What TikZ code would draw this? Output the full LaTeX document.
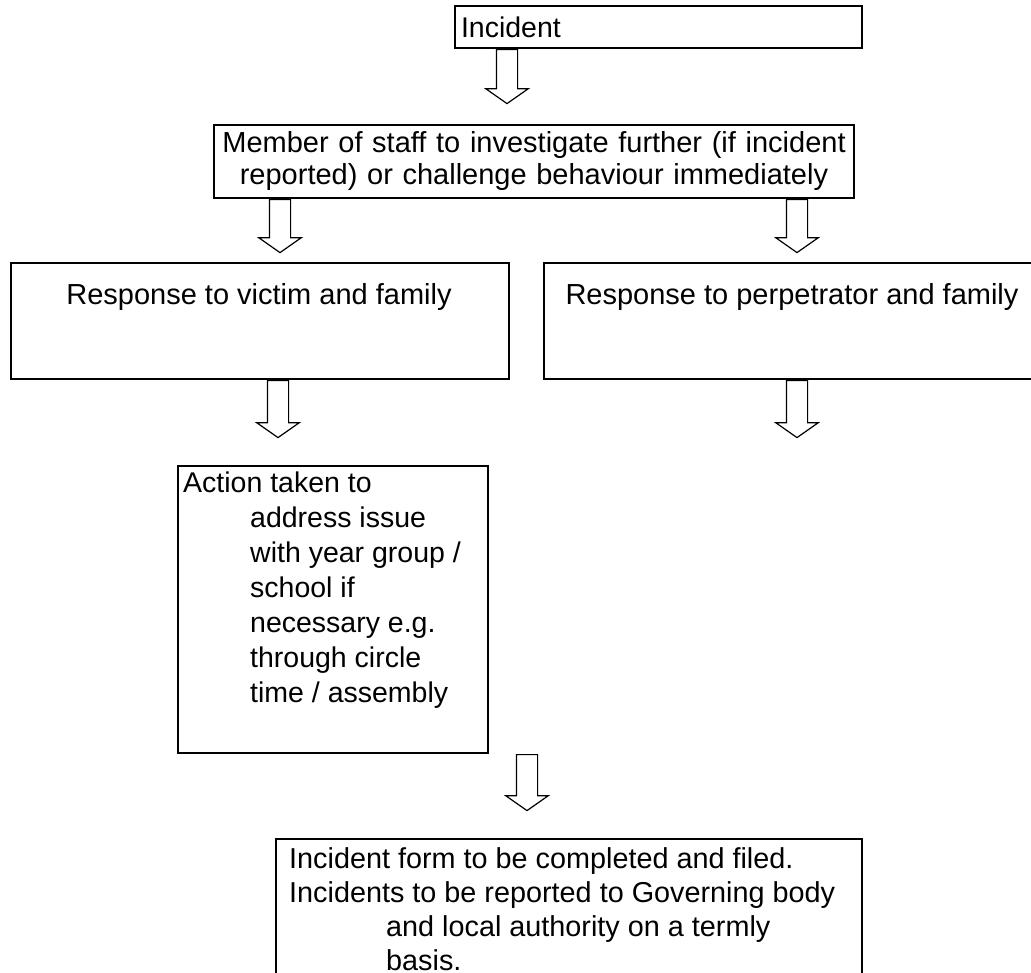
\documentclass[tikz,border=0pt]{standalone}
\usepackage{fontspec}
\setmainfont{Liberation Sans}
\usetikzlibrary{shapes.arrows}

\begin{document}
\begin{tikzpicture}[x=1pt,y=-1pt,
box/.style={draw,line width=2pt,rectangle,inner sep=0pt,anchor=north west},
txt/.style={font=\fontsize{28.5}{35}\selectfont,inner sep=0pt,align=left},
formtxt/.style={font=\fontsize{28.8}{34}\selectfont,inner sep=0pt,align=left},
bigtxt/.style={font=\fontsize{29}{32}\selectfont,inner sep=0pt,align=center},
downarrow/.style={draw,line width=1.2pt,single arrow,inner sep=10pt,single arrow head extend=10.5pt,single arrow tip angle=110,rotate=-90,anchor=tail}]

\useasboundingbox (0,0) rectangle (1031,973);
\clip (0,0) rectangle (1031,973);

\node[box,txt,minimum width=407,minimum height=42,text width=395,inner xsep=6pt] (inc) at (454,5) {Incident};
\node[box,bigtxt,minimum width=640,minimum height=73,text width=640] (staff) at (213,124) {Member of staff to investigate further (if incident\\reported) or challenge behaviour immediately};

\node[box,minimum width=498,minimum height=116] (victim) at (10,262) {};
\node[bigtxt,anchor=base] (victimtxt) at (259,305) {Response to victim and family};
\node[box,minimum width=498,minimum height=116] (perp) at (543,262) {};
\node[bigtxt,anchor=base] (perptxt) at (792,305) {Response to perpetrator and family};

\node[box,minimum width=310,minimum height=287] (action) at (177,465) {};
\node[txt,anchor=north west] (actiontxt) at (183,472) {Action taken to\\
\hspace*{67pt}address issue\\
\hspace*{67pt}with year group /\\
\hspace*{67pt}school if\\
\hspace*{67pt}necessary e.g.\\
\hspace*{67pt}through circle\\
\hspace*{67pt}time / assembly};

\node[box,minimum width=586,minimum height=160] (form) at (275,838) {};
\node[formtxt,anchor=north west] (formtxt) at (289,847) {Incident form to be completed and filed.\\
Incidents to be reported to Governing body\\
\hspace*{97pt}and local authority on a termly\\
\hspace*{97pt}basis.};

% block arrows
\node[downarrow,minimum height=54] (a1) at (inc.south -| 507,0) {};
\node[downarrow,minimum height=53] (a2) at (staff.south -| 280,0) {};
\node[downarrow,minimum height=53] (a3) at (staff.south -| 797,0) {};
\node[downarrow,minimum height=57] (a4) at (victim.south -| 278,0) {};
\node[downarrow,minimum height=57] (a5) at (perp.south -| 797,0) {};
\node[downarrow,minimum height=56] (a6) at (action.south -| 527,0) {};
\end{tikzpicture}
\end{document}
